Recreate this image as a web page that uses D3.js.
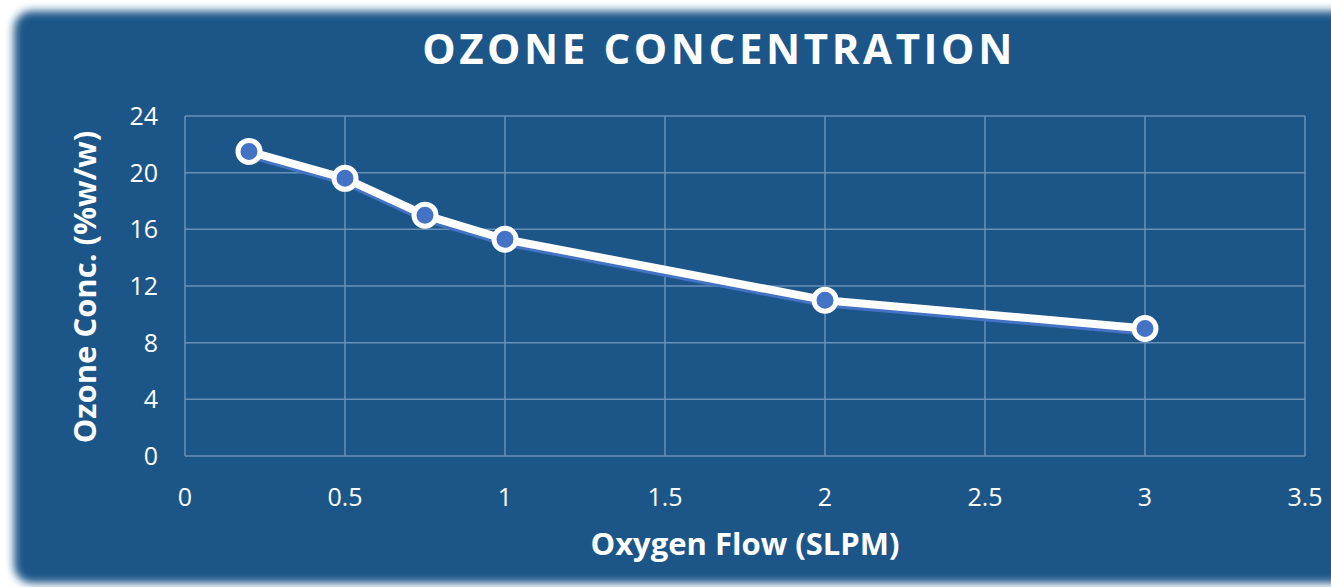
<!DOCTYPE html>
<html>
  <head>
    <script src="https://cdnjs.cloudflare.com/ajax/libs/d3/7.8.5/d3.min.js"></script>
<style>
  body { margin: 0; background: #ffffff; }
  text { font-family: "Open Sans", sans-serif; fill: #ffffff; }
</style>
  </head>
  <body>
    <div id="vis"></div>
    <script type="text/javascript">

      // data
      const flow = [0.2, 0.5, 0.75, 1, 2, 3];
      const ozone = [21.5, 19.6, 17.0, 15.3, 11.0, 9.0];
      const xTicks = [0, 0.5, 1, 1.5, 2, 2.5, 3, 3.5];
      const yTicks = [0, 4, 8, 12, 16, 20, 24];

      const w = 1331;
      const h = 587;
      const svg = d3.select("#vis")
          .append("svg")
          .attr("width", w)
          .attr("height", h);

      const defs = svg.append("defs");
      defs.append("filter")
          .attr("id", "soft")
          .attr("x", "-5%").attr("y", "-5%")
          .attr("width", "110%").attr("height", "110%")
          .append("feGaussianBlur")
          .attr("stdDeviation", 4);

      // card background
      svg.append("rect")
          .attr("x", 14).attr("y", 11)
          .attr("width", 1340).attr("height", 572)
          .attr("rx", 18)
          .attr("fill", "#1b5789")
          .attr("filter", "url(#soft)");

      const xScale = d3.scaleLinear().domain([0, 3.5]).range([185, 1305]);
      const yScale = d3.scaleLinear().domain([0, 24]).range([456, 116]);

      // grid
      const grid = svg.append("g").attr("stroke", "#6890b6").attr("stroke-width", 1.5);
      grid.selectAll("line.v")
          .data(xTicks)
          .join("line")
          .attr("class", "v")
          .attr("x1", d => xScale(d)).attr("x2", d => xScale(d))
          .attr("y1", yScale(24)).attr("y2", yScale(0));
      grid.selectAll("line.h")
          .data(yTicks)
          .join("line")
          .attr("class", "h")
          .attr("x1", xScale(0)).attr("x2", xScale(3.5))
          .attr("y1", d => yScale(d)).attr("y2", d => yScale(d));

      // tick labels
      svg.append("g").selectAll("text")
          .data(yTicks)
          .join("text")
          .attr("x", 158)
          .attr("y", d => yScale(d) + 9)
          .attr("text-anchor", "end")
          .attr("font-size", 25)
          .text(d => d);
      svg.append("g").selectAll("text")
          .data(xTicks)
          .join("text")
          .attr("x", d => xScale(d))
          .attr("y", 506)
          .attr("text-anchor", "middle")
          .attr("font-size", 25)
          .text(d => d);

      const pts = flow.map((f, i) => [f, ozone[i]]);
      const line = d3.line().x(d => xScale(d[0])).y(d => yScale(d[1]));

      // blue shadow under the line
      svg.append("path")
          .datum(pts)
          .attr("fill", "none")
          .attr("stroke", "#4472c4")
          .attr("stroke-width", 8)
          .attr("stroke-linejoin", "round")
          .attr("transform", "translate(0,3)")
          .attr("d", line);
      svg.append("path")
          .datum(pts)
          .attr("fill", "none")
          .attr("stroke", "#ffffff")
          .attr("stroke-width", 8)
          .attr("stroke-linejoin", "round")
          .attr("d", line);

      svg.append("g").selectAll("circle")
          .data(pts)
          .join("circle")
          .attr("cx", d => xScale(d[0]))
          .attr("cy", d => yScale(d[1]))
          .attr("r", 11)
          .attr("fill", "#4472c4")
          .attr("stroke", "#ffffff")
          .attr("stroke-width", 5);

      // title and axis titles
      svg.append("text")
          .attr("x", 719).attr("y", 64)
          .attr("text-anchor", "middle")
          .attr("font-size", 42)
          .attr("font-weight", "bold")
          .attr("letter-spacing", 3.6)
          .text("OZONE CONCENTRATION");
      svg.append("text")
          .attr("x", 745).attr("y", 555)
          .attr("text-anchor", "middle")
          .attr("font-size", 31)
          .attr("font-weight", "bold")
          .text("Oxygen Flow (SLPM)");
      svg.append("text")
          .attr("transform", "translate(96,287) rotate(-90)")
          .attr("text-anchor", "middle")
          .attr("font-size", 31)
          .attr("font-weight", "bold")
          .text("Ozone Conc. (%w/w)");

    </script>
  </body>
</html>
